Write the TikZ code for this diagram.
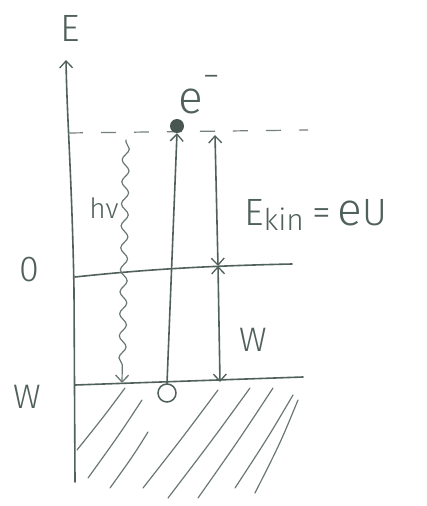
\documentclass[tikz,border=0pt]{standalone}
\usepackage{fontspec}
\setmainfont{Fira Sans Light}
\usetikzlibrary{arrows.meta,decorations.pathmorphing,calc}
\definecolor{pencil}{RGB}{80,96,90}
\begin{document}
\begin{tikzpicture}[x=1pt,y=-1pt,
  every node/.style={text=pencil,inner sep=0pt},
  pen/.style={draw=pencil,line width=1.6pt,line cap=round},
  thin pen/.style={draw=pencil!85,line width=1.2pt,line cap=round},
  vtip/.tip={Straight Barb[length=7pt,width=13pt,line width=1.3pt]},
  lbl/.style={font=\fontsize{38}{40}\selectfont}
]
\useasboundingbox (0,0) rectangle (427,506);
% axis
\coordinate (ax0) at (75,482);
\coordinate (ax1) at (66,60);
\draw[pen,-{vtip}] (ax0) -- (74,290) .. controls (72,180) and (67,120) .. (ax1);
\node[lbl] (E) at (70,28) {E};
% dashed level
\coordinate (d0) at (68,133);
\coordinate (d1) at (308,130);
\draw[draw=pencil!80,line width=1.2pt,dash pattern=on 15pt off 18pt] (d0) -- (d1);
% zero level
\coordinate (z0) at (75,277);
\coordinate (z1) at (292,264);
\draw[pen] (z0) .. controls (140,270) and (200,266) .. (z1);
\node[font=\fontsize{36}{38}\selectfont] (zero) at (29,270) {0};
% W level
\coordinate (w0) at (75,385);
\coordinate (w1) at (303,377);
\draw[pen] (w0) -- (w1);
\node[font=\fontsize{34}{36}\selectfont] (Wl) at (27,397) {W};
% electron and hole
\node[circle,fill=pencil!90!black,minimum size=14pt] (el) at (177,126) {};
\node[circle,draw=pencil,line width=1.5pt,minimum size=18pt] (hole) at (167,393) {};
\node[font=\fontsize{46}{48}\selectfont,anchor=base west] (em) at (178,113) {e\raisebox{26pt}{\fontsize{34}{34}\selectfont −}};
\draw[pen,-{vtip}] (hole.north) -- (el.south);
% photon
\coordinate (p0) at (126,140);
\coordinate (p1) at (122,383);
\draw[thin pen,-{vtip},decorate,decoration={snake,amplitude=3.5pt,segment length=22pt,post length=12pt,pre length=2pt}] (p0) -- (p1);
\node[font=\fontsize{28}{30}\selectfont] (hv) at (104,208) {hν};
% energy arrows
\coordinate (k1) at (215,135);
\coordinate (k0) at (218,266);
\coordinate (k2) at (220,382);
\draw[pen,{vtip}-{vtip}] (k1) -- (k0);
\draw[pen,{vtip}-{vtip}] (k0) -- (k2);
\node[lbl,anchor=base west] (ekin) at (244,225) {E\raisebox{-5pt}{\fontsize{30}{30}\selectfont kin}\hspace{9pt}=\hspace{6pt}{\fontsize{46}{46}\selectfont e}U};
\node[font=\fontsize{34}{36}\selectfont] (Wr) at (253,340) {W};
% hatching
\foreach \a/\b in {{77,450}/{125,388},{88,478}/{142,400},{110,488}/{148,432},{143,488}/{218,390},{168,498}/{250,388},{198,498}/{273,388},{235,488}/{293,395},{255,493}/{298,400}}
  \draw[thin pen] (\a) .. controls ($(\a)!0.5!(\b)+(4,-4)$) .. (\b);
\end{tikzpicture}
\end{document}
